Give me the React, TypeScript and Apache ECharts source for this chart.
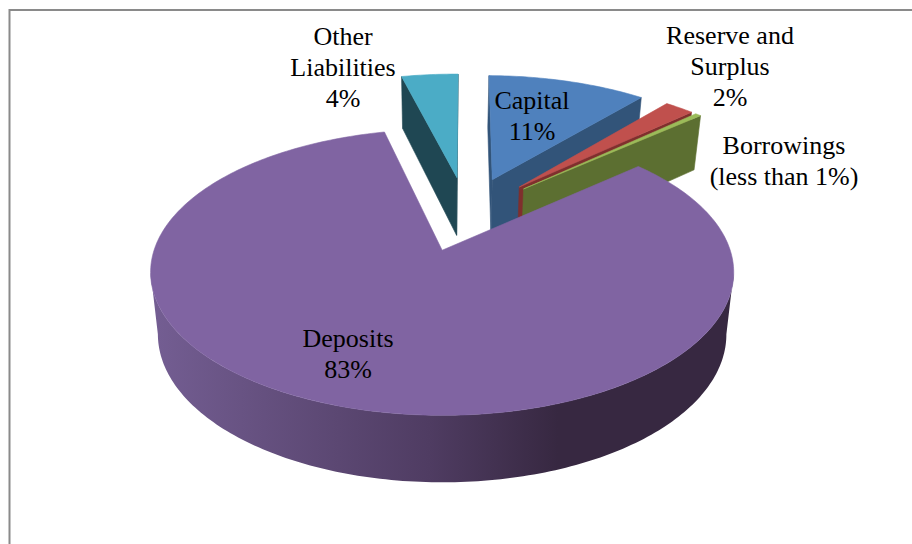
import React, { useEffect, useRef } from "react";
import * as echarts from "echarts";

// Chart order, clockwise from the first slice angle
const CATEGORIES = ["Capital", "Reserve and\nSurplus", "Borrowings", "Deposits", "Other\nLiabilities"];
const VALUES = [10.9, 2.0, 0.4, 82.8, 3.9];
const PERCENT_TEXT = ["11%", "2%", "(less than 1%)", "83%", "4%"];
const TOP_COLORS = ["#4f81bd", "#c0504d", "#9bbb59", "#8064a2", "#4bacc6"];
const WALL_COLORS = ["#325479", "#7f2f2d", "#5c6f31", "#372841", "#1f4753"];
const DRAW_ORDER = [4, 0, 1, 2, 3];
const LABEL_CENTERS = [[532, 116], [730, 66], [784, 161], [348, 354], [343, 67]];

const FIRST_ANGLE = 0.76;
const EXPLOSION = 0.29;
const HUB = [0.092, -0.2746];

// Perspective projection of the pie's unit disc
const CX = 441;
const CY = 250;
const KP = 0.1538;
const AY = 139.6;
const BX = 288;
const WALL_X_SCALE = 0.975;
const SILHOUETTE = (Math.acos(-KP) * 180) / Math.PI;

const rad = (d: number) => (d * Math.PI) / 180;
const dir = (d: number) => [Math.sin(rad(d)), -Math.cos(rad(d))];
const projectTop = (u: number, v: number) => {
  const w = 1 - KP * v;
  return [CX + (BX * u) / w, CY + (AY * v) / w];
};
const projectBottom = (u: number, v: number) => {
  const w = 1 - KP * v;
  return [CX + (WALL_X_SCALE * BX * u) / w, CY + (AY * v) / w + 61 + 6 * v];
};

const total = VALUES.reduce((a, b) => a + b, 0);
const ranges = VALUES.map((_, i) => {
  const before = VALUES.slice(0, i).reduce((a, b) => a + b, 0);
  return [FIRST_ANGLE + (before / total) * 360, FIRST_ANGLE + ((before + VALUES[i]) / total) * 360];
});

const shoelace = (p: number[][]) => {
  let s = 0;
  p.forEach((a, i) => {
    const b = p[(i + 1) % p.length];
    s += a[0] * b[1] - b[0] * a[1];
  });
  return s;
};

const wallGradient = () =>
  new echarts.graphic.LinearGradient(
    150,
    0,
    733,
    0,
    [
      { offset: 0, color: "#745e93" },
      { offset: 0.48, color: "#4f3c62" },
      { offset: 0.7, color: "#372841" },
      { offset: 1, color: "#372841" },
    ],
    true
  );

function renderSlice(params: any) {
  const i = DRAW_ORDER[params.dataIndex];
  const [a0, a1] = ranges[i];
  const m = dir((a0 + a1) / 2);
  const ox = HUB[0] + EXPLOSION * m[0];
  const oy = HUB[1] + EXPLOSION * m[1];
  const rim = (a: number) => {
    const d = dir(a);
    return [ox + d[0], oy + d[1]];
  };
  const children: any[] = [];
  const poly = (points: number[][], fill: any, stroke: any, z2: number) =>
    children.push({
      type: "polygon",
      z2,
      shape: { points },
      style: { fill, stroke, lineWidth: 0.6 },
    });

  const radial = (a: number, wantPositive: boolean) => {
    const r = rim(a);
    const q = [projectTop(ox, oy), projectTop(r[0], r[1]), projectBottom(r[0], r[1]), projectBottom(ox, oy)];
    if (shoelace(q) > 0 === wantPositive) poly(q, WALL_COLORS[i], WALL_COLORS[i], 1);
  };
  radial(a0, false);
  radial(a1, true);

  const from = Math.max(a0, SILHOUETTE);
  const to = Math.min(a1, 360 - SILHOUETTE);
  if (to > from) {
    const topPts: number[][] = [];
    const botPts: number[][] = [];
    for (let a = from; a <= to + 0.999; a += 1) {
      const r = rim(Math.min(a, to));
      topPts.push(projectTop(r[0], r[1]));
      botPts.push(projectBottom(r[0], r[1]));
    }
    poly(topPts.concat(botPts.reverse()), i === 3 ? wallGradient() : WALL_COLORS[i], "none", 2);
  }

  const face: number[][] = [projectTop(ox, oy)];
  const steps = Math.max(2, Math.ceil(a1 - a0));
  for (let s = 0; s <= steps; s++) {
    const r = rim(a0 + ((a1 - a0) * s) / steps);
    face.push(projectTop(r[0], r[1]));
  }
  poly(face, TOP_COLORS[i], TOP_COLORS[i], 3);
  return { type: "group", children };
}

const labelText = (i: number) => `${CATEGORIES[i]}\n${PERCENT_TEXT[i]}`;

export default function App() {
  const ref = useRef<HTMLDivElement>(null);
  useEffect(() => {
    document.body.style.margin = "0";
    const chart = echarts.init(ref.current!, null, { renderer: "svg" });
    chart.setOption({
      animation: false,
      backgroundColor: "#ffffff",
      series: [
        {
          type: "custom",
          coordinateSystem: "none",
          silent: true,
          renderItem: renderSlice,
          data: DRAW_ORDER.map((i) => ({ name: CATEGORIES[i], value: [VALUES[i]] })),
        },
      ],
      graphic: {
        elements: [
          {
            type: "polyline",
            z: 50,
            shape: { points: [[9.5, 544], [9.5, 10], [912, 10]] },
            style: { stroke: "#8a8a8a", lineWidth: 2, fill: "none" },
          },
          ...CATEGORIES.map((_, i) => ({
            type: "text",
            z: 100,
            x: LABEL_CENTERS[i][0],
            y: LABEL_CENTERS[i][1],
            style: {
              text: labelText(i),
              fill: "#000000",
              font: '26px "Liberation Serif"',
              align: "center",
              verticalAlign: "middle",
              lineHeight: 31,
            },
          })),
        ],
      },
    });
    return () => chart.dispose();
  }, []);
  return <div ref={ref} style={{ width: 912, height: 544 }} />;
}
